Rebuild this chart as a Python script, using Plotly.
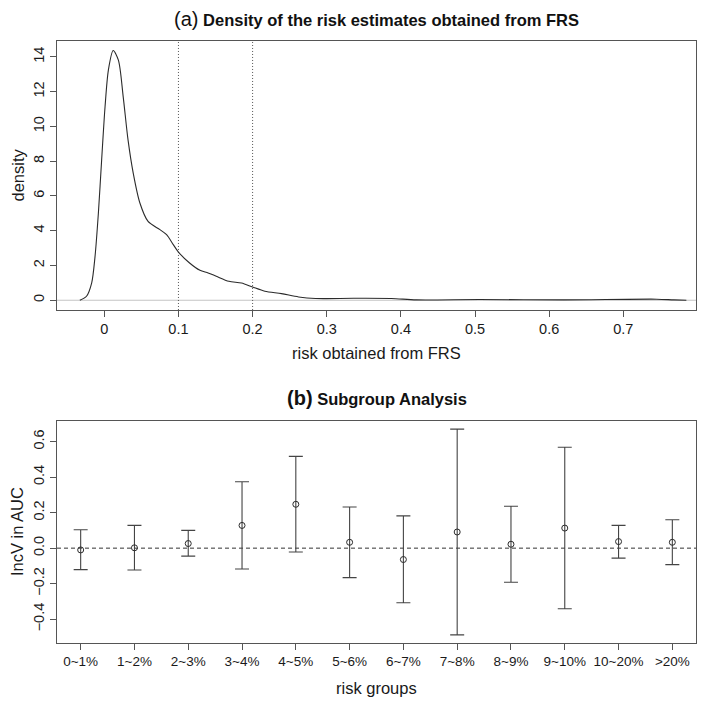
import plotly.graph_objects as go

# ---- Panel (a): density of FRS risk estimates
risk_x = [-0.033, -0.024, -0.017, -0.0125, -0.008, -0.0036, 0.001, 0.0055, 0.012, 0.019,
          0.0255, 0.032, 0.039, 0.048, 0.059, 0.075, 0.084, 0.093, 0.100, 0.115,
          0.129, 0.140, 0.151, 0.168, 0.185, 0.200, 0.2165, 0.239, 0.262, 0.285,
          0.336, 0.387, 0.421, 0.506, 0.620, 0.745, 0.768, 0.785]
density_y = [0.0, 0.23, 1.0, 2.52, 5.0, 8.07, 11.13, 13.24, 14.36, 13.81,
             11.7, 9.22, 7.31, 5.59, 4.53, 4.06, 3.77, 3.2, 2.77, 2.14,
             1.72, 1.57, 1.38, 1.09, 0.99, 0.76, 0.52, 0.38, 0.19, 0.10,
             0.11, 0.10, 0.02, 0.04, 0.02, 0.06, 0.02, 0.0]
ref_lines = [0.1, 0.2]
xticks_a = [0, 0.1, 0.2, 0.3, 0.4, 0.5, 0.6, 0.7]
xticklabels_a = ["0", "0.1", "0.2", "0.3", "0.4", "0.5", "0.6", "0.7"]
yticks_a = [0, 2, 4, 6, 8, 10, 12, 14]

# ---- Panel (b): subgroup analysis
groups = ["0~1%", "1~2%", "2~3%", "3~4%", "4~5%", "5~6%", "6~7%", "7~8%",
          "8~9%", "9~10%", "10~20%", ">20%"]
incv = [-0.010, 0.002, 0.026, 0.128, 0.247, 0.033, -0.064, 0.091, 0.022, 0.113, 0.037, 0.033]
upper = [0.104, 0.128, 0.100, 0.374, 0.517, 0.232, 0.182, 0.670, 0.236, 0.568, 0.128, 0.160]
lower = [-0.121, -0.123, -0.045, -0.117, -0.022, -0.166, -0.307, -0.488, -0.192, -0.341, -0.056, -0.093]
yticks_b = [-0.4, -0.2, 0.0, 0.2, 0.4, 0.6]
yticklabels_b = ["\u22120.4", "\u22120.2", "0.0", "0.2", "0.4", "0.6"]

FONT = "Liberation Sans, Arial, Helvetica, sans-serif"
INK = "#2b2b2b"
FRAME = "#555555"

pos = list(range(1, len(groups) + 1))
err_plus = [u - m for u, m in zip(upper, incv)]
err_minus = [m - l for m, l in zip(incv, lower)]

fig = go.Figure()
fig.add_trace(go.Scatter(x=risk_x, y=density_y, mode="lines",
                         line=dict(color=INK, width=1.1, shape="spline", smoothing=0.8),
                         xaxis="x", yaxis="y", showlegend=False, hoverinfo="skip"))
fig.add_trace(go.Scatter(x=pos, y=incv, mode="markers",
                         marker=dict(symbol="circle-open", size=6, color=INK, line=dict(width=1)),
                         error_y=dict(type="data", symmetric=False, array=err_plus,
                                      arrayminus=err_minus, color="#444444", thickness=1.1, width=7),
                         xaxis="x2", yaxis="y2", showlegend=False))

top_dom = [0.5532, 1.0]
bot_dom = [0.0, 0.3688]

axis_common = dict(showline=True, linecolor=FRAME, linewidth=1, mirror=True,
                   ticks="outside", ticklen=6, tickcolor=FRAME, tickwidth=1,
                   showgrid=False, zeroline=False,
                   tickfont=dict(family=FONT, size=14.5, color="#1a1a1a"))

fig.update_layout(
    width=713, height=703,
    margin=dict(l=57, r=17, t=41, b=60),
    paper_bgcolor="white", plot_bgcolor="white",
    xaxis=dict(domain=[0, 1], anchor="y", range=[-0.0638, 0.798],
               tickmode="array", tickvals=xticks_a, ticktext=xticklabels_a, **axis_common),
    yaxis=dict(domain=top_dom, anchor="x", range=[-0.56, 14.91],
               tickmode="array", tickvals=yticks_a, tickangle=-90, **axis_common),
    xaxis2=dict(domain=[0, 1], anchor="y2", range=[0.56, 12.44],
                tickmode="array", tickvals=pos, ticktext=groups,
                **{**axis_common, "tickfont": dict(family=FONT, size=13.5, color="#1a1a1a")}),
    yaxis2=dict(domain=bot_dom, anchor="x2", range=[-0.534, 0.716],
                tickmode="array", tickvals=yticks_b, ticktext=yticklabels_b, tickangle=-90,
                **axis_common),
)

shapes = [
    dict(type="line", xref="x domain", yref="y", x0=0, x1=1, y0=0, y1=0,
         line=dict(color="#c4c4c4", width=1.2), layer="below"),
    dict(type="line", xref="x2 domain", yref="y2", x0=0, x1=1, y0=0, y1=0,
         line=dict(color="#333333", width=1, dash="4px,3px"), layer="below"),
]
for v in ref_lines:
    shapes.append(dict(type="line", xref="x", yref="y domain", x0=v, x1=v, y0=0, y1=1,
                       line=dict(color="#555555", width=1, dash="1px,2px"), layer="below"))
fig.update_layout(shapes=shapes)

def pp(py):  # pixel row -> paper y
    return (643 - py) / 602.0

def px(pxv):  # pixel col -> paper x
    return (pxv - 57) / 639.0

annotations = [
    dict(text="<span style='font-size:20px'>(a)</span> <b>Density of the risk estimates obtained from FRS</b>",
         x=px(376.5), y=pp(19), xref="paper", yref="paper", showarrow=False,
         font=dict(family=FONT, size=16.5, color="#111111"), xanchor="center", yanchor="middle"),
    dict(text="<b><span style='font-size:20px'>(b)</span> Subgroup Analysis</b>",
         x=px(376.5), y=pp(398), xref="paper", yref="paper", showarrow=False,
         font=dict(family=FONT, size=16.5, color="#111111"), xanchor="center", yanchor="middle"),
    dict(text="risk obtained from FRS", x=px(376.5), y=pp(353), xref="paper", yref="paper",
         showarrow=False, font=dict(family=FONT, size=16.5, color="#1a1a1a"),
         xanchor="center", yanchor="middle"),
    dict(text="risk groups", x=px(376.5), y=pp(688), xref="paper", yref="paper",
         showarrow=False, font=dict(family=FONT, size=16.5, color="#1a1a1a"),
         xanchor="center", yanchor="middle"),
    dict(text="density", x=px(17), y=pp(175.5), xref="paper", yref="paper", textangle=-90,
         showarrow=False, font=dict(family=FONT, size=16.5, color="#1a1a1a"),
         xanchor="center", yanchor="middle"),
    dict(text="IncV in AUC", x=px(17), y=pp(532), xref="paper", yref="paper", textangle=-90,
         showarrow=False, font=dict(family=FONT, size=16.5, color="#1a1a1a"),
         xanchor="center", yanchor="middle"),
]
fig.update_layout(annotations=annotations)

fig.write_html("out.html", config={"displayModeBar": False},
               post_script="document.body.style.margin='0';document.body.style.overflow='hidden';")
